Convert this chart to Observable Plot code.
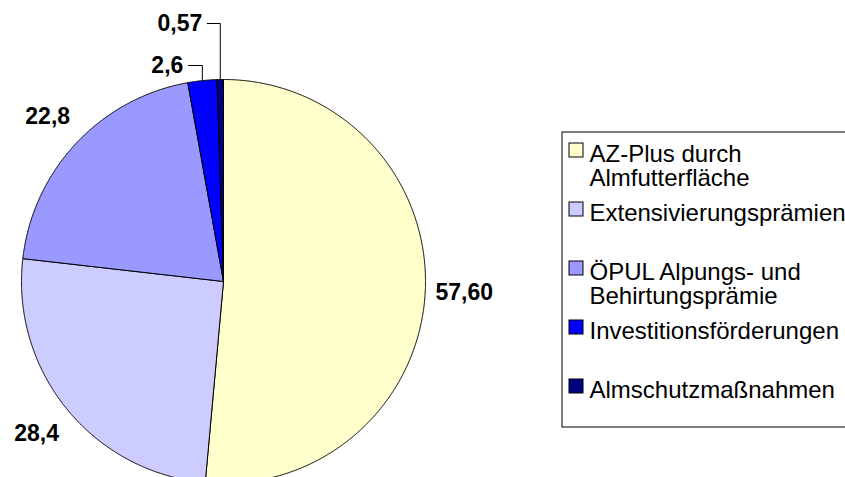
<!DOCTYPE html>
<html><head><meta charset="utf-8">
<script src="https://cdn.jsdelivr.net/npm/d3@7"></script>
<script src="https://cdn.jsdelivr.net/npm/@observablehq/plot@0.6"></script>
<style>html,body{margin:0;padding:0;background:#fff;overflow:hidden}</style>
</head><body><div id="chart"></div>
<script>
// ---- data ----
const categories = ["AZ-Plus durch Almfutterfläche", "Extensivierungsprämien", "ÖPUL Alpungs- und Behirtungsprämie", "Investitionsförderungen", "Almschutzmaßnahmen"];
const legendLabels = ["AZ-Plus durch\nAlmfutterfläche", "Extensivierungsprämien", "ÖPUL Alpungs- und\nBehirtungsprämie", "Investitionsförderungen", "Almschutzmaßnahmen"];
const values = [57.60, 28.4, 22.8, 2.6, 0.57];
const valueLabels = ["57,60", "28,4", "22,8", "2,6", "0,57"];
const colors = ["#FFFFCC", "#CCCCFF", "#9999FF", "#0000FF", "#000080"];

// ---- layout ----
const W = 845, H = 477;
const L = {cx: 223, cy: 281, r: 202, labelR: 241,
  leaderY: {3: 65, 4: 23}, leaderLen: {3: 14, 4: 13}, leaderGap: 5,
  box: {x1: 562, x2: 900, y1: 132, y2: 427},
  swatchX: 569, swatch: 14, textX: 589, firstBaseline: 161, step: 59};
const FONT = "Liberation Sans, Arial, Helvetica, sans-serif";

const arcs = d3.pie().sort(null).value(d => d)(values);
const slices = [];
arcs.forEach((a, i) => {
  const n = Math.max(2, Math.ceil((a.endAngle - a.startAngle) / (Math.PI / 720)));
  slices.push({cat: categories[i], x: L.cx, y: L.cy});
  for (let k = 0; k <= n; k++) {
    const t = a.startAngle + (a.endAngle - a.startAngle) * k / n;
    slices.push({cat: categories[i], x: L.cx + L.r * Math.sin(t), y: L.cy - L.r * Math.cos(t)});
  }
  slices.push({cat: categories[i], x: L.cx, y: L.cy});
});

const plainLabels = [], leaderLabels = [], leaders = [];
arcs.forEach((a, i) => {
  const m = (a.startAngle + a.endAngle) / 2;
  if (L.leaderY[i] != null) {
    const px = L.cx + L.r * Math.sin(m), py = L.cy - L.r * Math.cos(m);
    const ly = L.leaderY[i], ex = px - L.leaderLen[i];
    leaders.push({id: i, x: px, y: py}, {id: i, x: px, y: ly}, {id: i, x: ex, y: ly});
    leaderLabels.push({text: valueLabels[i], x: ex - L.leaderGap, y: ly});
  } else {
    plainLabels.push({text: valueLabels[i], x: L.cx + L.labelR * Math.sin(m), y: L.cy - L.labelR * Math.cos(m)});
  }
});

const chart = Plot.plot({
  width: W, height: H, margin: 0,
  style: {fontFamily: FONT, overflow: "hidden", background: "#fff"},
  x: {type: "linear", domain: [0, W], range: [0, W], axis: null},
  y: {type: "linear", domain: [0, H], range: [0, H], axis: null},
  color: {domain: categories, range: colors},
  marks: [
    Plot.line(slices, {x: "x", y: "y", z: "cat", fill: "cat", stroke: "#000", strokeWidth: 1, curve: "linear", strokeLinejoin: "miter"}),
    Plot.line(leaders, {x: "x", y: "y", z: "id", stroke: "#000", strokeWidth: 1}),
    Plot.text(plainLabels, {x: "x", y: "y", text: "text", textAnchor: "middle", lineAnchor: "middle", fontSize: 23, fontWeight: "bold", fontFamily: FONT, fill: "#000"}),
    Plot.text(leaderLabels, {x: "x", y: "y", text: "text", textAnchor: "end", lineAnchor: "middle", fontSize: 23, fontWeight: "bold", fontFamily: FONT, fill: "#000"}),
    Plot.rect([0], {x1: L.box.x1, x2: L.box.x2, y1: L.box.y1, y2: L.box.y2, fill: "#fff", stroke: "#000", strokeWidth: 1}),
    Plot.rect(categories, {x1: L.swatchX, x2: L.swatchX + L.swatch,
      y1: (d, i) => L.firstBaseline + i * L.step - 18, y2: (d, i) => L.firstBaseline + i * L.step - 18 + L.swatch,
      fill: d => d, stroke: "#000", strokeWidth: 1}),
    Plot.text(legendLabels, {x: L.textX, y: (d, i) => L.firstBaseline + i * L.step - 17, text: d => d,
      textAnchor: "start", lineAnchor: "top", lineHeight: 1, fontSize: 24, fontFamily: FONT, fill: "#000"})
  ]
});
document.getElementById("chart").appendChild(chart);
</script></body></html>
